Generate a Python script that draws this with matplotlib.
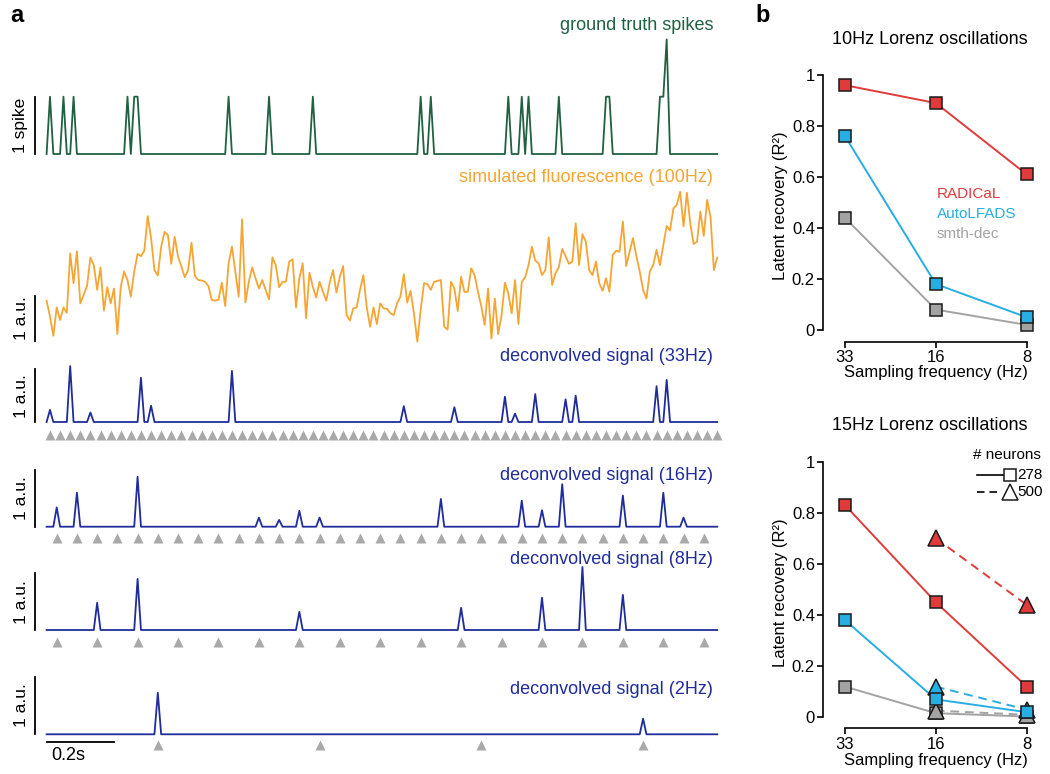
import numpy as np
import matplotlib
matplotlib.use('Agg')
from matplotlib import pyplot as plt
from matplotlib.lines import Line2D

plt.rcParams['font.family'] = ['Liberation Sans', 'DejaVu Sans']

W, H = 1050, 774

# ---------------- panel a : traces, 100 Hz sample index ----------------
n_samples = 200

gt_idx = [1, 5, 8, 24, 26, 27, 54, 66, 79, 111, 114, 137, 141, 143, 152,
          166, 167, 182, 183, 184]
gt_count = [1, 1, 1, 1, 1, 1, 1, 1, 1, 1, 1, 1, 1, 1, 1,
            1, 1, 1, 1, 2]

fluor = [
    0.94, 0.59, 0.16, 0.79, 0.51, 0.79, 0.67, 1.99, 1.33, 2.04,
    0.88, 1.07, 1.27, 1.90, 1.73, 1.18, 1.68, 0.72, 1.24, 0.88,
    1.21, 0.20, 1.25, 1.59, 1.40, 1.03, 1.59, 1.98, 1.93, 2.05,
    2.82, 2.33, 1.62, 1.50, 2.14, 2.47, 2.40, 1.76, 2.36, 1.92,
    1.70, 1.46, 1.62, 2.23, 1.49, 1.40, 1.39, 1.36, 1.27, 0.96,
    0.94, 0.96, 1.34, 0.82, 1.77, 2.14, 1.59, 1.03, 2.75, 0.90,
    1.36, 1.68, 1.44, 1.21, 1.40, 1.18, 0.97, 1.90, 1.73, 1.24,
    1.36, 1.36, 1.81, 1.86, 0.79, 1.44, 1.77, 0.55, 1.56, 1.25,
    1.01, 1.36, 1.14, 0.94, 1.34, 1.62, 1.12, 1.47, 1.71, 0.62,
    0.50, 0.77, 0.79, 1.18, 1.51, 0.79, 0.36, 0.79, 0.42, 0.88,
    0.77, 0.76, 0.66, 0.62, 0.88, 1.03, 1.53, 0.90, 1.16, 0.66,
    0.03, 0.73, 1.33, 1.31, 1.18, 1.36, 1.38, 1.40, 0.36, 0.30,
    1.36, 1.21, 0.71, 1.47, 1.13, 1.14, 1.66, 1.51, 1.14, 0.81,
    0.40, 1.21, 0.10, 0.99, 0.20, 0.62, 1.34, 1.10, 0.66, 1.40,
    0.42, 1.36, 1.46, 1.73, 2.14, 1.83, 1.77, 1.51, 1.62, 2.35,
    1.29, 1.55, 1.68, 2.09, 1.93, 1.76, 1.81, 2.66, 1.73, 2.42,
    2.25, 1.62, 1.51, 1.81, 1.33, 1.16, 1.44, 1.14, 1.96, 2.05,
    2.03, 2.70, 1.71, 2.03, 2.33, 1.93, 1.59, 1.18, 0.99, 1.59,
    1.73, 2.07, 1.73, 2.18, 2.60, 2.50, 2.99, 3.07, 3.36, 2.59,
    3.34, 2.66, 2.20, 2.25, 2.92, 2.38, 3.18, 2.81, 1.62, 1.90,
]

dec33_idx = [1, 7, 13, 28, 31, 55, 106, 121, 136, 139, 145, 154, 157, 181, 184]
dec33_amp = [0.23, 1.06, 0.18, 0.84, 0.31, 0.97, 0.30, 0.28, 0.48, 0.16,
             0.53, 0.43, 0.50, 0.68, 0.80]
dec16_idx = [3, 9, 27, 63, 69, 75, 81, 117, 141, 147, 153, 171, 183, 189]
dec16_amp = [0.34, 0.60, 0.88, 0.16, 0.12, 0.28, 0.16, 0.49, 0.46, 0.29,
             0.75, 0.55, 0.60, 0.16]
dec8_idx = [15, 27, 75, 123, 147, 159, 171]
dec8_amp = [0.48, 0.90, 0.32, 0.39, 0.57, 1.11, 0.62]
dec2_idx = [33, 177]
dec2_amp = [0.72, 0.27]

samp33 = np.arange(1, n_samples, 3)
samp16 = np.arange(3, n_samples, 6)
samp8 = np.arange(3, n_samples, 12)
samp2 = [33, 81, 129, 177]

# ---------------- panel b : latent recovery ----------------
freq_labels = ['33', '16', '8']
lor10_radical = [0.96, 0.89, 0.61]
lor10_autolfads = [0.76, 0.18, 0.05]
lor10_smth = [0.44, 0.08, 0.02]

lor15_radical = [0.83, 0.45, 0.12]
lor15_autolfads = [0.38, 0.07, 0.02]
lor15_smth = [0.12, 0.016, 0.003]
lor15_radical_500 = [0.70, 0.44]
lor15_autolfads_500 = [0.12, 0.03]
lor15_smth_500 = [0.026, 0.01]

GREEN = '#1f6140'
ORANGE = '#f6a532'
NAVY = '#1f2c9a'
TRI = '#a9a9a9'
RED = '#e03a3a'
BLUE = '#27aee3'
GREY = '#a3a3a3'


def fx(px):
    return px / W


def fy(py):
    return 1 - py / H


fig = plt.figure(figsize=(W / 100, H / 100), dpi=100)

x_left = -46.6 / 3.37
x_right = (730 - 46.6) / 3.37
t = np.arange(n_samples)


def trace_ax(top, bottom, base, scale):
    ax = fig.add_axes([0, fy(bottom), 730 / W, (bottom - top) / H])
    ax.set_xlim(x_left, x_right)
    ax.set_ylim((base - bottom) / scale, (base - top) / scale)
    ax.axis('off')
    return ax


def spiky(idx, amp):
    y = np.zeros(n_samples)
    y[idx] = amp
    return y


def vbar(ax, y0, label, base, scale):
    ax.plot([-3.5, -3.5], [y0, y0 + 1], color='k', lw=1.3, clip_on=False)
    mid = base - (y0 + 0.5) * scale
    fig.text(fx(21), fy(mid), label, rotation=90, ha='center', va='center',
             fontsize=12.5)


# ground truth
ax = trace_ax(30, 165, 154, 57.3)
ax.plot(t, spiky(gt_idx, gt_count), color=GREEN, lw=1.3)
vbar(ax, 0, '1 spike', 154, 57.3)
fig.text(fx(713), fy(25), 'ground truth spikes', color=GREEN, ha='right',
         va='center', fontsize=13)

# fluorescence
ax = trace_ax(185, 350, 343, 45)
ax.plot(t, fluor, color=ORANGE, lw=1.3)
vbar(ax, 0.05, '1 a.u.', 343, 45)
fig.text(fx(713), fy(178), 'simulated fluorescence (100Hz)', color=ORANGE,
         ha='right', va='center', fontsize=13)

# deconvolved traces
decs = [
    (dec33_idx, dec33_amp, samp33, 360, 445, 422, 52.7, 357, '33Hz'),
    (dec16_idx, dec16_amp, samp16, 462, 548, 526.7, 56.7, 475, '16Hz'),
    (dec8_idx, dec8_amp, samp8, 560, 652, 630, 56.7, 560, '8Hz'),
    (dec2_idx, dec2_amp, samp2, 665, 760, 734.3, 57.7, 690, '2Hz'),
]
tri_off = {'33Hz': 13, '16Hz': 11, '8Hz': 11.7, '2Hz': 10.7}
for idx, amp, samp, top, bottom, base, scale, ty, name in decs:
    ax = trace_ax(top, bottom, base, scale)
    ax.plot(t, spiky(idx, amp), color=NAVY, lw=1.3)
    ty_tri = -tri_off[name] / scale
    ax.plot(samp, np.full(len(samp), ty_tri), '^', color=TRI, ms=7,
            mec='none', clip_on=False)
    vbar(ax, 0, '1 a.u.', base, scale)
    fig.text(fx(713), fy(ty), 'deconvolved signal (%s)' % name, color=NAVY,
             ha='right', va='center', fontsize=13)
    if name == '2Hz':
        ax.plot([0, 20], [-7.4 / scale, -7.4 / scale], color='k', lw=1.3,
                clip_on=False)
        fig.text(fx(51), fy(755), '0.2s', ha='left', va='center', fontsize=13)

fig.text(fx(10), fy(15), 'a', fontsize=17, fontweight='bold', ha='left',
         va='center')
fig.text(fx(755), fy(15), 'b', fontsize=17, fontweight='bold', ha='left',
         va='center')


# ---------------- right panels ----------------
def recov_ax(top, bottom, y0px, y1px, title, title_y, xlab_y):
    scale = y0px - y1px
    ax = fig.add_axes([fx(823.3), fy(bottom), (1040 - 823.3) / W,
                       (bottom - top) / H])
    ax.set_xlim((823.3 - 845) / 90.85, (1040 - 845) / 90.85)
    ax.set_ylim(-(bottom - y0px) / scale, (y0px - top) / scale)
    for s in ['top', 'right']:
        ax.spines[s].set_visible(False)
    ax.spines['left'].set_bounds(0, 1)
    ax.spines['bottom'].set_bounds(0, 2)
    for s in ['left', 'bottom']:
        ax.spines[s].set_linewidth(1.2)
    ax.set_xticks([0, 1, 2])
    ax.set_xticklabels(freq_labels)
    ax.set_yticks([0, 0.2, 0.4, 0.6, 0.8, 1])
    ax.set_yticklabels(['0', '0.2', '0.4', '0.6', '0.8', '1'])
    ax.tick_params(length=4.5, width=1.2, labelsize=12, pad=1.5)
    ax.patch.set_alpha(0)
    fig.text(fx(930), fy(title_y), title, ha='center', va='center',
             fontsize=13)
    fig.text(fx(936), fy(xlab_y), 'Sampling frequency (Hz)', ha='center',
             va='center', fontsize=12)
    fig.text(fx(780), fy((y0px + y1px) / 2 + 3), 'Latent recovery (R²)',
             rotation=90, ha='center', va='center', fontsize=12)
    return ax


def series(ax, x, y, color, marker, ls, ms):
    ax.plot(x, y, color=color, lw=1.4, ls=ls, dashes=(4.5, 3) if ls == '--' else (None, None),
            zorder=2)
    ax.plot(x, y, ls='none', marker=marker, ms=ms, mfc=color, mec='#1a1a1a',
            mew=1.1, clip_on=False, zorder=3)


xs = [0, 1, 2]
ax1 = recov_ax(70, 341.7, 330, 75, '10Hz Lorenz oscillations', 40, 372)
series(ax1, xs, lor10_smth, GREY, 's', '-', 8.5)
series(ax1, xs, lor10_autolfads, BLUE, 's', '-', 8.5)
series(ax1, xs, lor10_radical, RED, 's', '-', 8.5)
fig.text(fx(936.7), fy(194), 'RADICaL', color=RED, fontsize=11, va='center')
fig.text(fx(936.7), fy(214), 'AutoLFADS', color=BLUE, fontsize=11,
         va='center')
fig.text(fx(936.7), fy(234), 'smth-dec', color=GREY, fontsize=11, va='center')

ax2 = recov_ax(456, 728.3, 717.3, 461.7, '15Hz Lorenz oscillations', 425, 761)
series(ax2, xs, lor15_smth, GREY, 's', '-', 8.5)
series(ax2, xs[1:], lor15_smth_500, GREY, '^', '--', 11)
series(ax2, xs[1:], lor15_autolfads_500, BLUE, '^', '--', 11)
series(ax2, xs, lor15_autolfads, BLUE, 's', '-', 8.5)
series(ax2, xs, lor15_radical, RED, 's', '-', 8.5)
series(ax2, xs[1:], lor15_radical_500, RED, '^', '--', 11)

# neurons legend
fig.text(fx(973), fy(455), '# neurons', fontsize=11, va='center')
fig.add_artist(Line2D([fx(976.7), fx(1004)], [fy(475), fy(475)], color='k',
                      lw=1.2))
fig.add_artist(Line2D([fx(1009.5)], [fy(475)], marker='s', ms=8, mfc='white',
                      mec='#1a1a1a', mew=1.1))
fig.text(fx(1017), fy(475), '278', fontsize=11, va='center')
fig.add_artist(Line2D([fx(976.7), fx(1002)], [fy(492), fy(492)], color='k',
                      lw=1.2, dashes=(4.5, 3)))
fig.add_artist(Line2D([fx(1010)], [fy(492)], marker='^', ms=11, mfc='white',
                      mec='#1a1a1a', mew=1.1))
fig.text(fx(1017), fy(492), '500', fontsize=11, va='center')

fig.savefig('out.png', dpi=100)
